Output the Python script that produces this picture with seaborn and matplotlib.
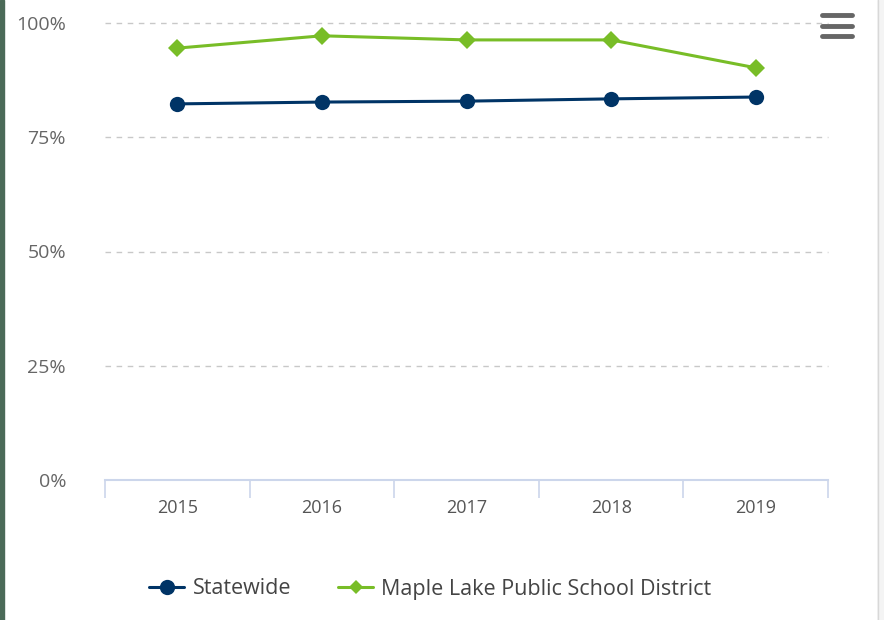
import pandas as pd
import matplotlib.pyplot as plt
import seaborn as sns
from matplotlib.lines import Line2D
from matplotlib.patches import Rectangle

years = ['2015', '2016', '2017', '2018', '2019']
statewide = [82.3, 82.7, 82.9, 83.4, 83.8]
maple_lake = [94.5, 97.2, 96.3, 96.3, 90.2]
series_names = ['Statewide', 'Maple Lake Public School District']
y_ticks = [0, 25, 50, 75, 100]
y_labels = ['0%', '25%', '50%', '75%', '100%']

data = pd.DataFrame({
    'Year': years * 2,
    'Value': statewide + maple_lake,
    'Series': [series_names[0]] * len(years) + [series_names[1]] * len(years),
})

sns.set_style('white')
plt.rcParams['font.family'] = ['Open Sans', 'DejaVu Sans']

blue = '#003466'
green = '#78bd27'

fig = plt.figure(figsize=(8.84, 6.2), dpi=100)
ax = fig.add_axes([105 / 884, 1 - 480 / 620, 723 / 884, 457 / 620])

sns.lineplot(data=data, x='Year', y='Value', hue='Series', style='Series',
             palette=[blue, green], markers=['o', 'D'], dashes=False,
             markersize=11, linewidth=2.2, markeredgewidth=0, ax=ax, legend=False)
# diamonds a bit smaller than the circles
for ln in ax.lines:
    if ln.get_marker() == 'D':
        ln.set_markersize(9)

ax.set_xlim(-0.5, 4.5)
ax.set_ylim(0, 100)
ax.set_yticks(y_ticks)
ax.set_yticklabels(y_labels)
ax.set_xticks(range(len(years)))
ax.set_xticklabels(years)
ax.set_xticks([i - 0.5 for i in range(len(years) + 1)], minor=True)
ax.tick_params(axis='y', length=0, pad=28, labelsize=14, labelcolor='#666666')
ax.tick_params(axis='x', which='major', bottom=False, length=0, pad=14, labelsize=13,
               labelcolor='#555555')
ax.tick_params(axis='x', which='minor', bottom=True, length=13, width=1.2, color='#ccd6eb')
ax.set_xlabel('')
ax.set_ylabel('')

for v in y_ticks[1:]:
    ax.axhline(v, color='#c8c8c8', linestyle=(0, (4, 4)), linewidth=1, zorder=0, clip_on=False)
for s in ['top', 'right', 'left']:
    ax.spines[s].set_visible(False)
ax.spines['bottom'].set_color('#ccd6eb')
ax.spines['bottom'].set_linewidth(1.5)

handles = [
    Line2D([], [], color=blue, marker='o', markersize=11, linewidth=2.2, markeredgewidth=0),
    Line2D([], [], color=green, marker='D', markersize=7, linewidth=2.2, markeredgewidth=0),
]
fig.legend(handles, series_names, loc='center', bbox_to_anchor=(0.487, 1 - 589 / 620),
           ncol=2, frameon=False, fontsize=15.5, handlelength=1.6, columnspacing=2.2,
           handletextpad=0.4, labelcolor='#444444')

# menu icon
for yy in [15, 25.5, 35.5]:
    fig.add_artist(Line2D([822 / 884, 852 / 884], [1 - yy / 620] * 2, color='#666666',
                          linewidth=3.5, solid_capstyle='round'))

# frame edges
fig.add_artist(Rectangle((0, 0), 4 / 884, 1, transform=fig.transFigure, color='#4b6a58'))
fig.add_artist(Rectangle((877 / 884, 0), 7 / 884, 1, transform=fig.transFigure,
                         facecolor='#f4f4f4', edgecolor='none'))
fig.add_artist(Line2D([877.5 / 884] * 2, [0, 1], color='#d8d8d8', linewidth=1))

fig.savefig('out.png', dpi=100)
